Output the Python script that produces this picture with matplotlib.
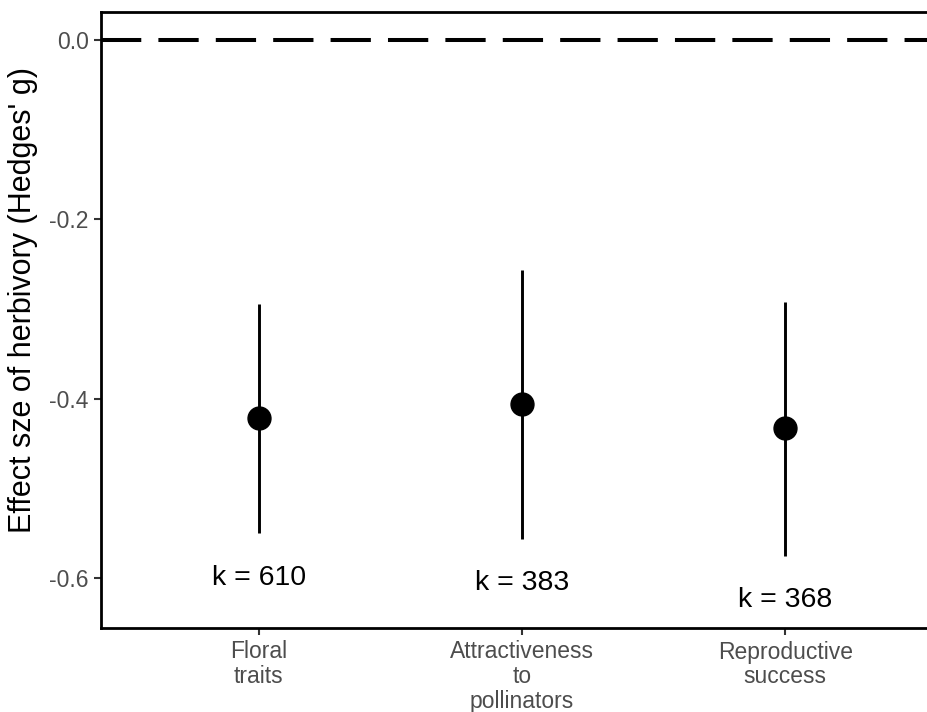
import matplotlib
matplotlib.use("Agg")
import matplotlib.pyplot as plt

categories = ["Floral\ntraits", "Attractiveness\nto\npollinators", "Reproductive\nsuccess"]
effect = [-0.422, -0.406, -0.433]
ci_lower = [-0.550, -0.556, -0.575]
ci_upper = [-0.295, -0.256, -0.292]
k_labels = ["k = 610", "k = 383", "k = 368"]
yticks = [0.0, -0.2, -0.4, -0.6]

plt.rcParams["font.family"] = ["Liberation Sans", "DejaVu Sans"]

W, H = 927, 712
fig = plt.figure(figsize=(W / 100, H / 100), dpi=100)
left_px, right_px, top_px, bottom_px = 101, 943, 12, 628
ax = fig.add_axes([left_px / W, 1 - bottom_px / H,
                   (right_px - left_px) / W, (bottom_px - top_px) / H])

x = list(range(1, len(categories) + 1))

# reference line at zero
ax.axhline(0, color="black", lw=2.9, dashes=(10, 4.25), zorder=1)

for xi, lo, hi in zip(x, ci_lower, ci_upper):
    ax.plot([xi, xi], [lo, hi], color="black", lw=2.1, solid_capstyle="butt", zorder=2)
ax.plot(x, effect, "o", color="black", ms=16.5, zorder=3)

for xi, lo, lab in zip(x, ci_lower, k_labels):
    ax.text(xi, lo - 0.05, lab, ha="center", va="center", fontsize=20.5, color="black")

ax.set_xlim(0.4, 3.6)
ax.set_ylim(-0.6558, 0.0312)
ax.set_xticks(x)
ax.set_xticklabels(categories, linespacing=1.1)
ax.set_yticks(yticks)
ax.set_yticklabels([f"{v:.1f}" for v in yticks])
ax.tick_params(axis="both", colors="#333333", labelcolor="#4D4D4D",
               labelsize=16.5, length=5, width=1.5)
ax.tick_params(axis="x", pad=4)
ax.tick_params(axis="y", pad=4)

for side in ["left", "bottom", "top"]:
    ax.spines[side].set_linewidth(2.0)
    ax.spines[side].set_color("black")
ax.spines["right"].set_visible(False)

ax.set_ylabel("Effect sze of herbivory (Hedges' g)", fontsize=22, color="black",
              va="center")
ax.yaxis.set_label_coords(-0.0926, 0.532)

fig.savefig("out.png", dpi=100)
